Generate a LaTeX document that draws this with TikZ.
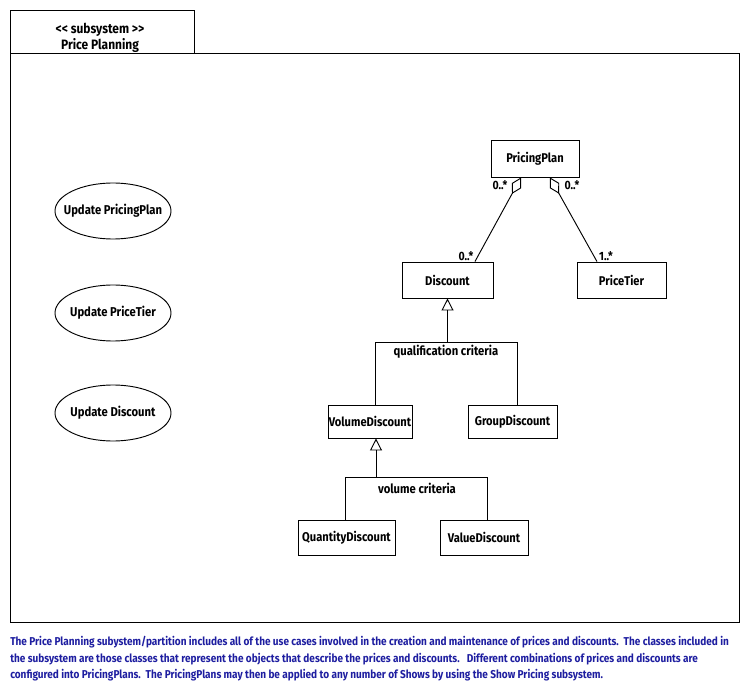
\documentclass[tikz,border=0pt]{standalone}
\usepackage{fontspec}
\setmainfont{Fira Sans}[FakeStretch=0.88]
\usetikzlibrary{arrows.meta,shapes.geometric}
\definecolor{notecol}{RGB}{30,30,160}
\tikzset{
  cls/.style={draw, line width=0.7pt, inner sep=0pt, font=\fontsize{9.5}{11}\selectfont\bfseries},
  uc/.style={draw, ellipse, line width=0.7pt, inner sep=0pt, inner xsep=-12pt, minimum width=87pt, minimum height=42pt, font=\fontsize{9.6}{11}\selectfont\bfseries},
  mult/.style={inner sep=0pt, font=\fontsize{9}{10}\selectfont\bfseries},
  lbl/.style={inner sep=0pt, font=\fontsize{9.6}{11}\selectfont\bfseries},
  ln/.style={line width=0.7pt},
  agg/.style={ln, {Diamond[open,length=14pt,width=8pt]}-},
  gen/.style={ln, -{Triangle[open,length=9pt,width=9pt]}}
}
\begin{document}
\begin{tikzpicture}[x=0.75pt,y=-0.75pt]
\useasboundingbox (0,0) rectangle (750,695);
% frame
\draw[ln] (10,53) -- (10,10) -- (194,10) -- (194,53);
\draw[ln] (10,53) rectangle (739,622);
\node[lbl, font=\fontsize{10.2}{12}\selectfont\bfseries, align=center] (title) at (100,38) {<{}< subsystem >{}>\\Price Planning};
% use cases
\node[uc] (uc1) at (113,211) {Update PricingPlan};
\node[uc] (uc2) at (113,313) {Update PriceTier};
\node[uc] (uc3) at (113,413) {Update Discount};
% classes
\node[cls, minimum width=66pt, minimum height=27.75pt] (pp) at (535,158.5) {PricingPlan};
\node[cls, minimum width=68.25pt, minimum height=27pt] (disc) at (447.5,280) {Discount};
\node[cls, minimum width=66.75pt, minimum height=27pt] (pt) at (621.5,280) {PriceTier};
\node[cls, minimum width=63pt, minimum height=24.75pt] (vd) at (370,421.5) {VolumeDiscount};
\node[cls, minimum width=66.75pt, minimum height=24.75pt] (gd) at (512.5,421.5) {GroupDiscount};
\node[cls, minimum width=72.75pt, minimum height=26.25pt] (qd) at (346.5,537.5) {QuantityDiscount};
\node[cls, minimum width=66pt, minimum height=26.25pt] (vald) at (484,537.5) {ValueDiscount};
% aggregations
\draw[agg] ([xshift=-10.5pt]pp.south) -- ([xshift=20.6pt]disc.north);
\draw[agg] ([xshift=11.25pt]pp.south) -- ([xshift=-18.4pt]pt.north);
\node[mult] (m1) at (500,185) {0..*};
\node[mult] (m2) at (572,185) {0..*};
\node[mult] (m3) at (466,256) {0..*};
\node[mult] (m4) at (606,256) {1..*};
% generalization 1
\coordinate (qm) at (447.5,342);
\coordinate (ql) at (375,342);
\coordinate (qr) at (517,342);
\draw[gen] (qm) -- (disc.south);
\draw[ln] (ql |- vd.north) -- (ql) -- (qr) -- (qr |- gd.north);
\node[lbl] (qc) at (446,352) {qualification criteria};
% generalization 2
\coordinate (vm) at (376,477);
\coordinate (vl) at (345,477);
\coordinate (vr) at (487,477);
\draw[gen] (vm) -- (vm |- vd.south);
\draw[ln] (vl |- qd.north) -- (vl) -- (vr) -- (vr |- vald.north);
\node[lbl] (vc) at (417,488) {volume criteria};
% note
\node[anchor=north west, inner sep=0pt, align=left, text=notecol, font=\fontsize{8.55}{12.4}\selectfont\bfseries] (note) at (10,636) {The Price Planning subystem/partition includes all of the use cases involved in the creation and maintenance of prices and discounts.\ \ The classes included in\\the subsystem are those classes that represent the objects that describe the prices and discounts.\ \ \ Different combinations of prices and discounts are\\configured into PricingPlans.\ \ The PricingPlans may then be applied to any number of Shows by using the Show Pricing subsystem.};
\end{tikzpicture}
\end{document}
